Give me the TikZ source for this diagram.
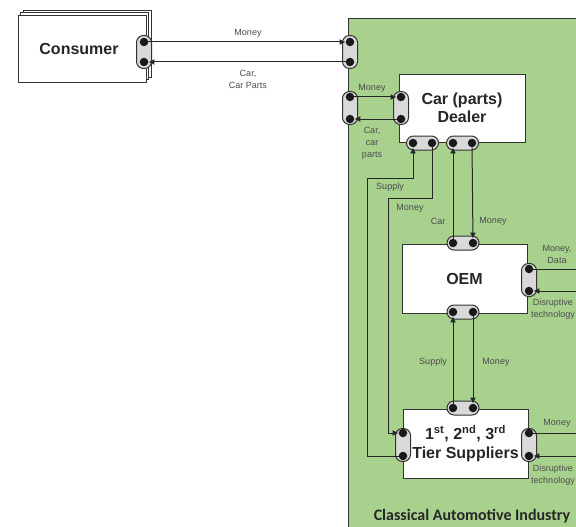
\documentclass[tikz,border=0pt]{standalone}
\usepackage{fontspec}
\setmainfont{Liberation Sans}
\newfontfamily\carlito{Carlito}
\usetikzlibrary{shadows,arrows.meta}
\definecolor{mygreen}{RGB}{169,209,142}
\definecolor{mygray}{RGB}{217,217,217}

\begin{document}
\begin{tikzpicture}[x=1pt,y=-1pt,inner sep=0pt]
\tikzstyle{box}=[rectangle, draw=black!80, fill=white, line width=0.8pt, align=center, text=black!85, font=\fontsize{16}{18.5}\selectfont\bfseries]
\tikzstyle{vport}=[rectangle, rounded corners=7pt, minimum width=15pt, minimum height=33pt, draw=black!80, fill=mygray, line width=1pt]
\tikzstyle{hport}=[rectangle, rounded corners=7pt, minimum width=32pt, minimum height=14pt, draw=black!80, fill=mygray, line width=1pt]
\tikzstyle{dot}=[circle, fill=black!90, minimum size=8.5pt]
\tikzstyle{connect}=[-{Latex[length=6pt,width=6pt]}, line width=1pt, black!85]
\tikzstyle{wire}=[line width=1pt, black!85]
\tikzstyle{txt}=[font=\fontsize{9}{12}\selectfont, text=black!70, align=center]
\useasboundingbox (0,0) rectangle (576,527);
\clip (0,0) rectangle (576,527);
\fill[mygreen, draw=black!80, line width=1pt] (348,19) rectangle (620,560);
% boxes
\node[box, double copy shadow={shadow xshift=2.5pt, shadow yshift=2.5pt}, minimum width=128pt, minimum height=67pt] (cons) at (82,48.5) {Consumer\hspace*{6pt}};
\node[box, minimum width=126pt, minimum height=68pt] (dealer) at (462,108) {Car (parts)\\Dealer};
\node[box, minimum width=125pt, minimum height=69pt] (oem) at (464.5,278.5) {OEM};
\node[box, minimum width=125pt, minimum height=69pt] (tier) at (465.5,443.5) {1\textsuperscript{st}, 2\textsuperscript{nd}, 3\textsuperscript{rd}\\Tier Suppliers};
% ports
\node[vport] (pcons) at (144,52) {};
\node[dot] (cm) at (144,42) {};
\node[dot] (cc) at (144,62) {};
\node[vport] (pedge) at (350,52) {};
\node[dot] (em) at (350,42) {};
\node[dot] (ec) at (350,62) {};
\node[vport] (pleft) at (350,108) {};
\node[dot] (lm) at (350,97) {};
\node[dot] (lc) at (350,119) {};
\node[vport] (pdl) at (401,108) {};
\node[dot] (dm) at (401,97) {};
\node[dot] (dc) at (401,119) {};
\node[hport] (pdb1) at (422.5,143) {};
\node[dot] (ds) at (413,143) {};
\node[dot] (dn) at (432,143) {};
\node[hport] (pdb2) at (462.5,143) {};
\node[dot] (dcar) at (453,143) {};
\node[dot] (dmon) at (472,143) {};
\node[hport] (pot) at (463,243) {};
\node[dot] (otc) at (453,243) {};
\node[dot] (otm) at (473,243) {};
\node[vport] (por) at (529,280) {};
\node[dot] (orm) at (529,269) {};
\node[dot] (ord) at (529,291) {};
\node[hport] (pob) at (463,312) {};
\node[dot] (obs) at (453,312) {};
\node[dot] (obm) at (473,312) {};
\node[hport] (ptt) at (463,408) {};
\node[dot] (tts) at (453,408) {};
\node[dot] (ttm) at (473,408) {};
\node[vport] (ptl) at (403,445) {};
\node[dot] (tlm) at (403,433) {};
\node[dot] (tls) at (403,456) {};
\node[vport] (ptr) at (529,445) {};
\node[dot] (trm) at (529,433) {};
\node[dot] (trd) at (529,456) {};
% corners and loose ends
\coordinate (supA) at (367,178);
\coordinate (monA) at (388,198);
\coordinate (oemOut) at (580,269);
\coordinate (oemIn) at (580,291);
\coordinate (tierOut) at (580,433);
\coordinate (tierIn) at (580,456);
% flows
\draw[connect] (cm) -- (em);
\draw[connect] (ec) -- (cc);
\draw[connect] (lm) -- (dm);
\draw[connect] (dc) -- (lc);
\draw[connect] (tls) -| (supA) -| (ds);
\draw[connect] (dn) |- (monA) |- (tlm);
\draw[connect] (otc) -- (dcar);
\draw[connect] (dmon) -- (otm);
\draw[connect] (tts) -- (obs);
\draw[connect] (obm) -- (ttm);
\draw[wire] (orm) -- (oemOut);
\draw[connect] (oemIn) -- (ord);
\draw[wire] (trm) -- (tierOut);
\draw[connect] (tierIn) -- (trd);
% labels
\node[txt] (tmoney) at (248,33) {Money};
\node[txt] (tcar) at (248,79) {Car,\\Car Parts};
\node[txt] (tdm) at (372,88) {Money};
\node[txt] (tdc) at (372,143) {Car,\\car\\parts};
\node[txt] (tsup) at (390,187) {Supply};
\node[txt] (tmon) at (410,208) {Money};
\node[txt] (tcar2) at (438,221) {Car};
\node[txt] (tmon2) at (493,221) {Money};
\node[txt] (tmd) at (557,254.5) {Money,\\Data};
\node[txt] (tdt) at (553,309) {Disruptive\\technology};
\node[txt] (tsup2) at (433,362) {Supply};
\node[txt] (tmon3) at (496,362) {Money};
\node[txt] (tmon4) at (557,423) {Money};
\node[txt] (tdt2) at (553,475.5) {Disruptive\\technology};
\node[font=\carlito\fontsize{16}{18}\selectfont\bfseries, text=black!85] (title) at (472,516) {Classical Automotive Industry};
\end{tikzpicture}
\end{document}
